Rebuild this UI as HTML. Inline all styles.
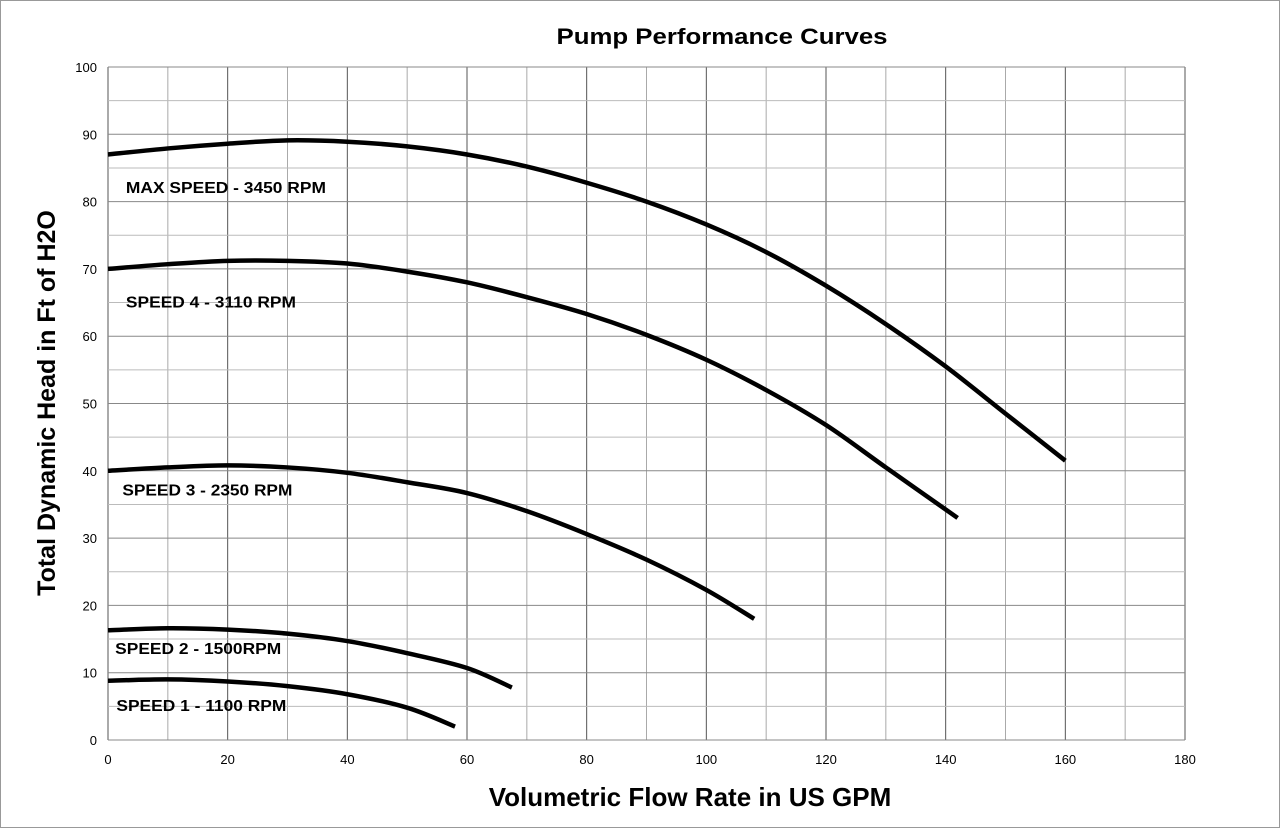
<!DOCTYPE html>
<html><head><meta charset="utf-8"><style>
body{margin:0;background:#fff}
svg{display:block;font-family:"Liberation Sans",sans-serif}
</style></head><body>
<svg id="chart" width="1280" height="828">
<rect x="0.5" y="0.5" width="1279" height="827" fill="#fff" stroke="#999"/>
<g id="grid"></g><g id="axes"></g><g id="curves"></g>
<text x="722" y="44" text-anchor="middle" font-size="22" font-weight="bold" textLength="331" lengthAdjust="spacingAndGlyphs">Pump Performance Curves</text>
<text x="690" y="806" text-anchor="middle" font-size="26" font-weight="bold">Volumetric Flow Rate in US GPM</text>
<text transform="translate(55,403) rotate(-90)" text-anchor="middle" font-size="25" font-weight="bold">Total Dynamic Head in Ft of H2O</text>
</svg>
<script>
const xTicks=[0,20,40,60,80,100,120,140,160,180];
const yTicks=[0,10,20,30,40,50,60,70,80,90,100];
const maxX=[0,10,20,30,40,50,60,70,80,90,100,110,120,130,140,150,160];
const maxY=[87,87.9,88.6,89.1,88.9,88.2,87,85.2,82.8,80,76.6,72.5,67.5,61.8,55.5,48.5,41.5];
const s4X=[0,10,20,30,40,50,60,70,80,90,100,110,120,130,142];
const s4Y=[70,70.7,71.2,71.2,70.8,69.6,68,65.8,63.3,60.2,56.5,52,46.8,40.5,33];
const s3X=[0,10,20,30,40,50,60,70,80,90,100,108];
const s3Y=[40,40.5,40.8,40.5,39.7,38.3,36.7,34,30.6,26.8,22.3,18];
const s2X=[0,10,20,30,40,50,60,67.5];
const s2Y=[16.3,16.6,16.4,15.8,14.7,12.9,10.7,7.8];
const s1X=[0,10,20,30,40,50,58];
const s1Y=[8.8,9,8.7,8,6.8,4.8,2];
const labels=["MAX SPEED - 3450 RPM","SPEED 4 - 3110 RPM","SPEED 3 - 2350 RPM","SPEED 2 - 1500RPM","SPEED 1 - 1100 RPM"];
const labelX=[3,3,2.4,1.2,1.4];
const labelY=[81.3,64.3,36.3,12.8,4.3];
const labelW=[200,170,170,166,170];
const X0=108,X1=1185,Y0=740,Y1=67;
const sx=v=>X0+v/180*(X1-X0), sy=v=>Y0-v/100*(Y0-Y1);
const NS="http://www.w3.org/2000/svg";
function mk(t,a,p){const e=document.createElementNS(NS,t);for(const k in a)e.setAttribute(k,a[k]);p.appendChild(e);return e;}
const grid=document.getElementById('grid'),axes=document.getElementById('axes'),curves=document.getElementById('curves');
for(let v=0;v<=180;v+=10){const l=mk('line',{x1:sx(v),x2:sx(v),y1:sy(0),y2:sy(100),stroke:v%20===0?'#555':'#aaa','stroke-width':1},grid);

}
for(let v=0;v<=100;v+=5){const l=mk('line',{x1:sx(0),x2:sx(180),y1:sy(v),y2:sy(v),stroke:v%10===0?'#888':'#bbb','stroke-width':1},grid);

}
xTicks.forEach(v=>{const t=mk('text',{x:sx(v),y:764,'text-anchor':'middle','font-size':13},axes);t.textContent=v;

});
yTicks.forEach(v=>{const t=mk('text',{x:97,y:sy(v)+5,'text-anchor':'end','font-size':13},axes);t.textContent=v;

});
const series=[[maxX,maxY],[s4X,s4Y],[s3X,s3Y],[s2X,s2Y],[s1X,s1Y]];
const names=['curve-max-speed','curve-speed-4','curve-speed-3','curve-speed-2','curve-speed-1'];
series.forEach((s,i)=>{
const pts=s[0].map((x,j)=>[sx(x),sy(s[1][j])]);
let d='M'+pts[0];
for(let j=0;j<pts.length-1;j++){const p0=pts[j-1]||pts[j],p1=pts[j],p2=pts[j+1],p3=pts[j+2]||p2;
d+=' C'+(p1[0]+(p2[0]-p0[0])/6)+','+(p1[1]+(p2[1]-p0[1])/6)+' '+(p2[0]-(p3[0]-p1[0])/6)+','+(p2[1]-(p3[1]-p1[1])/6)+' '+p2;}
const p=mk('path',{d:d,fill:'none',stroke:'#000','stroke-width':4.5},curves);


const t=mk('text',{x:sx(labelX[i]),y:sy(labelY[i]),'font-size':16,'font-weight':'bold',textLength:labelW[i],lengthAdjust:'spacingAndGlyphs'},curves);t.textContent=labels[i];


});
</script>
</body></html>
